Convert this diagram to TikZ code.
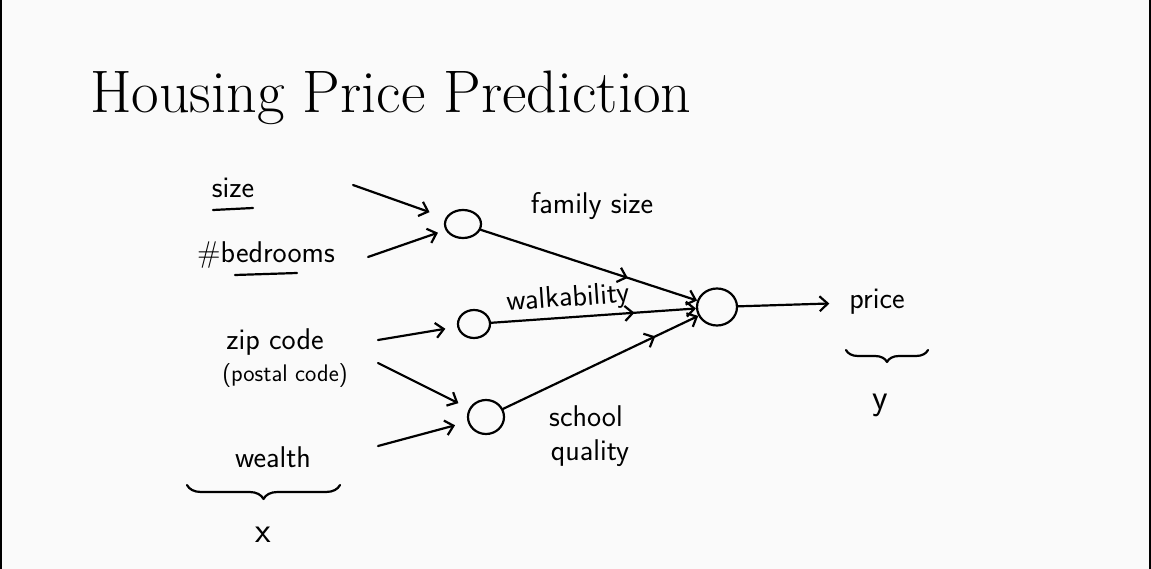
\documentclass[tikz,border=0pt]{standalone}
\usetikzlibrary{arrows.meta,shapes.geometric,decorations.pathreplacing,decorations.markings}
\begin{document}
\begin{tikzpicture}[x=1pt,y=-1pt,
  ink/.style={line width=2.2pt,line cap=round,line join=round},
  arr/.style={ink,-{Straight Barb[length=8pt,width=15pt,line width=2.2pt]}},
  midarr/.style={arr,postaction={decorate},decoration={markings,
     mark=at position #1 with {\arrow{Straight Barb[length=8pt,width=15pt,line width=2.2pt]}}}},
  unit/.style={draw,ellipse,line width=2.2pt,inner sep=0pt},
  hand/.style={font=\sffamily\fontsize{30}{33}\selectfont,inner sep=0pt},
  handbig/.style={font=\sffamily\fontsize{36}{40}\selectfont,inner sep=0pt},
  handsmall/.style={font=\sffamily\fontsize{24}{27}\selectfont,inner sep=0pt},
  brc/.style={ink,decorate,decoration={brace,mirror,amplitude=#1}}
]
\useasboundingbox (0,0) rectangle (1151,569);
\fill[white!98!black] (0,0) rectangle (1151,569);
\draw[line width=1.5pt] (0.75,0) -- (0.75,569);
\draw[line width=2pt] (1150,0) -- (1150,569);

% title
\node[anchor=base west,inner sep=0pt,font=\fontsize{60}{66}\selectfont] (title) at (90,113) {Housing Price Prediction};

% input labels
\node[hand] (size) at (233,188) {size};
\node[hand] (bed) at (266,255) {\#bedrooms};
\node[hand] (zip) at (275,342) {zip code};
\node[handsmall] (postal) at (285,376) {(postal code)};
\node[hand] (wealth) at (273,457) {wealth};
\node[handbig] (xlab) at (263,535) {x};

\draw[ink] (213,210) -- (253,208);
\draw[ink] (235,275) -- (297,273);

% hidden units
\node[unit,minimum width=36pt,minimum height=28pt] (h1) at (463,224) {};
\node[unit,minimum width=32pt,minimum height=28pt] (h2) at (474,324) {};
\node[unit,minimum width=36pt,minimum height=34pt] (h3) at (486,417) {};
\node[unit,minimum width=40pt,minimum height=37pt] (out) at (717,307) {};

% output label
\node[hand] (price) at (877,302) {price};
\node[handbig] (ylab) at (880,405) {y};

% free start points
\coordinate (s1) at (353,185);
\coordinate (s2) at (368,257);
\coordinate (s3) at (378,340);
\coordinate (s4) at (378,363);
\coordinate (s5) at (378,446);

\draw[arr,shorten >=17pt] (s1) -- (h1);
\draw[arr,shorten >=8pt] (s2) -- (h1);
\draw[arr,shorten >=12pt] (s3) -- (h2);
\draw[arr,shorten >=12pt] (s4) -- (h3);
\draw[arr,shorten >=13pt] (s5) -- (h3);

\draw[midarr=0.68] (h1) -- (out);
\draw[midarr=0.7] (h2) -- (out);
\draw[midarr=0.78] (h3) -- (out);
\draw[arr,shorten >=20pt] (out) -- (price);

% edge labels
\node[hand] (fam) at (592,206) {family size};
\node[hand,rotate=4] (walk) at (568,299) {walkability};
\node[hand] (school) at (586,416) {school};
\node[hand] (qual) at (590,453) {quality};

% braces
\coordinate (b1) at (187,485);
\coordinate (b2) at (340,485);
\draw[brc=14pt] (b1) -- (b2);
\coordinate (b3) at (846,350);
\coordinate (b4) at (928,350);
\draw[brc=12pt] (b3) -- (b4);
\end{tikzpicture}
\end{document}
